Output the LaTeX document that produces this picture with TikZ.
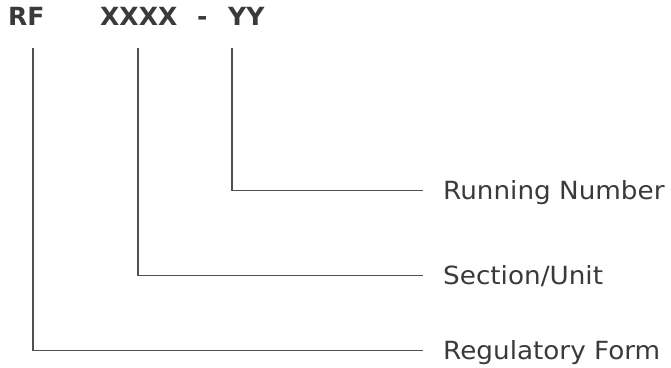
\documentclass[tikz,border=0pt]{standalone}
\usepackage{fontspec}
\setmainfont{DejaVu Sans}
\newfontfamily\lblfont[FakeStretch=1.05]{DejaVu Sans}
\definecolor{linegray}{HTML}{505050}
\definecolor{textgray}{HTML}{3A3A3A}
\begin{document}
\begin{tikzpicture}[x=1pt,y=-1pt,
  hdr/.style={anchor=base west, inner sep=0, font=\fontsize{25}{25}\selectfont\bfseries, text=textgray},
  lbl/.style={anchor=base west, inner sep=0, font=\lblfont\fontsize{25}{25}\selectfont, text=textgray},
  conn/.style={draw=linegray, line width=1.8pt}]
\useasboundingbox (0,0) rectangle (671,367);
\node[hdr] (rf) at (8,25) {RF};
\node[hdr] (xx) at (100,25) {XXXX};
\node[hdr] (dash) at (197,25) {-};
\node[hdr] (yy) at (228,25) {YY};
\node[lbl] (rn) at (443,199) {Running Number};
\node[lbl] (su) at (443,284) {Section/Unit};
\node[lbl] (rg) at (443,359) {Regulatory Form};
\coordinate (t1) at (33,48);
\coordinate (t2) at (138,48);
\coordinate (t3) at (232,48);
\draw[conn] (t3) |- ([xshift=-20pt,yshift=8.5pt]rn.base west);
\draw[conn] (t2) |- ([xshift=-20pt,yshift=8.5pt]su.base west);
\draw[conn] (t1) |- ([xshift=-20pt,yshift=8.5pt]rg.base west);
\end{tikzpicture}
\end{document}
